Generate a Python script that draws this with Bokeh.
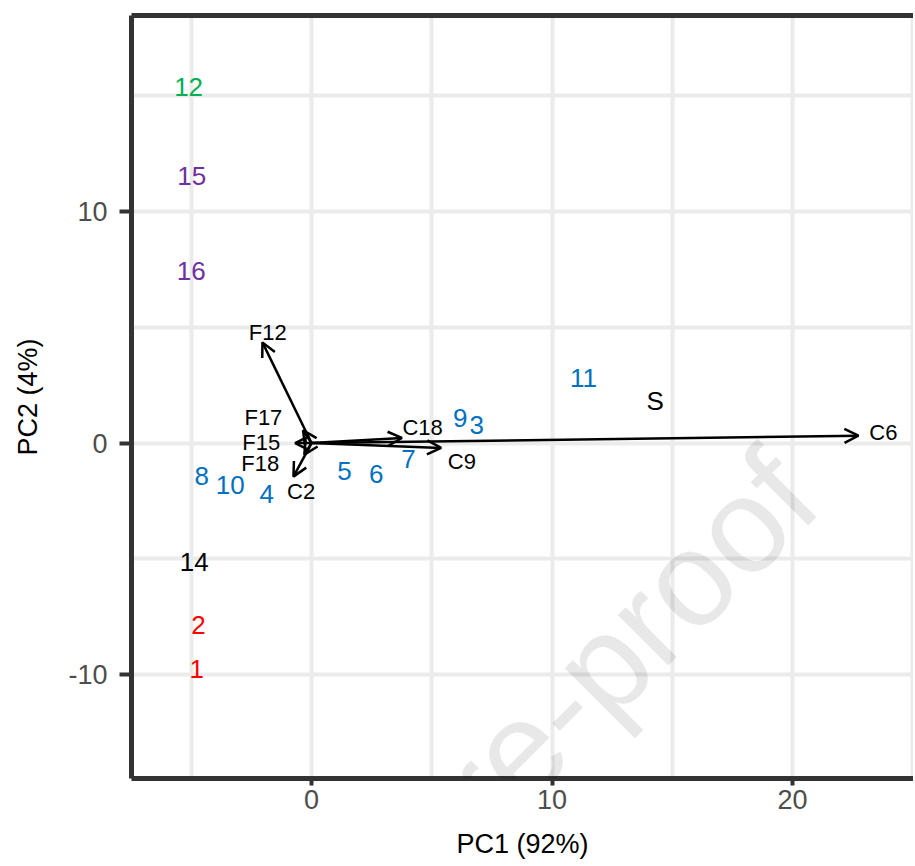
from bokeh.plotting import figure
from bokeh.models import (Range1d, LinearAxis, FixedTicker, Arrow, OpenHead,
                          ColumnDataSource, Label)
from bokeh.core.properties import value
from bokeh.embed import file_html
from bokeh.resources import INLINE

# ---- sample scores (PC1, PC2) ----
samples = ["12", "15", "16", "14", "2", "1", "8", "10", "4", "5", "6", "7", "9", "3", "11", "S"]
sample_pc1 = [-5.11, -4.98, -5.00, -4.88, -4.70, -4.77, -4.56, -3.38, -1.86, 1.37, 2.69, 4.03, 6.18, 6.87, 11.31, 14.29]
sample_pc2 = [15.39, 11.53, 7.42, -5.15, -7.88, -9.78, -1.43, -1.79, -2.22, -1.22, -1.32, -0.68, 1.09, 0.80, 2.82, 1.81]
sample_group = ["green", "purple", "purple", "black", "red", "red", "blue", "blue", "blue",
                "blue", "blue", "blue", "blue", "blue", "blue", "black"]
group_colors = {"green": "#00B050", "purple": "#7030A0", "black": "#000000",
                "red": "#FF0000", "blue": "#0070C0"}

# ---- variable loadings (arrow tips) and their label positions ----
variables = ["C6", "C9", "C18", "F12", "C2", "F17", "F15", "F18"]
load_pc1 = [22.74, 5.39, 3.76, -2.04, -0.75, -0.35, -0.68, -0.30]
load_pc2 = [0.32, -0.21, 0.22, 4.35, -1.45, 0.55, 0.00, -0.50]
label_pc1 = [23.78, 6.25, 4.62, -1.82, -0.43, -2.00, -2.09, -2.13]
label_pc2 = [0.45, -0.79, 0.66, 4.76, -2.08, 1.09, 0.01, -0.89]

x_ticks = [0, 10, 20]
y_ticks = [-10, 0, 10]
y_tick_text = {-10: "-10", 0: "0", 10: "10"}
x_grid = [-5, 0, 5, 10, 15, 20, 25]
y_grid = [-10, -5, 0, 5, 10, 15]

FONT = "Liberation Sans"
BORDER = "#333333"

p = figure(frame_width=782, frame_height=763,
           x_range=Range1d(-7.484, 25.03), y_range=Range1d(-14.49, 18.47),
           output_backend="svg", toolbar_location=None,
           min_border_left=131, min_border_right=0, min_border_top=15, min_border_bottom=0,
           x_axis_label="PC1 (92%)", y_axis_label="PC2 (4%)")
p.outline_line_color = None
p.background_fill_color = "white"
p.border_fill_color = "white"

# grid
p.xgrid.ticker = FixedTicker(ticks=x_grid)
p.ygrid.ticker = FixedTicker(ticks=y_grid)
for g in (p.xgrid, p.ygrid):
    g.grid_line_color = "#EBEBEB"
    g.grid_line_width = 4

# axes
p.xaxis.ticker = FixedTicker(ticks=x_ticks)
p.yaxis.ticker = FixedTicker(ticks=y_ticks)
p.yaxis.major_label_overrides = y_tick_text
for ax in (p.xaxis[0], p.yaxis[0]):
    ax.axis_line_color = BORDER
    ax.axis_line_width = 5
    ax.major_tick_line_color = BORDER
    ax.major_tick_line_width = 4
    ax.major_tick_in = 0
    ax.minor_tick_line_color = None
    ax.major_label_text_font = FONT
    ax.major_label_text_font_size = "27px"
    ax.major_label_text_color = "#4D4D4D"
    ax.axis_label_text_font = FONT
    ax.axis_label_text_font_size = "27px"
    ax.axis_label_text_font_style = "normal"
    ax.axis_label_text_color = "black"
p.xaxis.major_tick_out = 7
p.xaxis.major_label_standoff = 4
p.xaxis.axis_label_standoff = 17
p.yaxis.major_tick_out = 12
p.yaxis.major_label_standoff = 12
p.yaxis.axis_label_standoff = 22

top_axis = LinearAxis(ticker=FixedTicker(ticks=[]), axis_line_color=BORDER, axis_line_width=5,
                      major_tick_line_color=None, minor_tick_line_color=None,
                      major_label_text_font_size="0px", major_tick_out=0, major_label_standoff=0)
p.add_layout(top_axis, "above")

# watermark
wm = Label(x=20.04, y=-1.36, text="Journal Pre-proof", angle=45, angle_units="deg",
           text_font=FONT, text_font_size="135px", text_color="black", text_alpha=0.09,
           text_align="right", text_baseline="alphabetic")
p.add_layout(wm)

# arrows
asrc = ColumnDataSource(dict(x=load_pc1, y=load_pc2))
p.add_layout(Arrow(end=OpenHead(size=14, line_width=2.5, line_color="black"),
                   x_start=0, y_start=0, x_end="x", y_end="y", source=asrc,
                   line_width=2.5, line_color="black"))

# variable labels
vsrc = ColumnDataSource(dict(x=label_pc1, y=label_pc2, t=variables))
p.text(x="x", y="y", text="t", source=vsrc, text_font=value(FONT), text_font_size="22px",
       text_color="black", text_align="center", text_baseline="middle")

# sample labels
ssrc = ColumnDataSource(dict(x=sample_pc1, y=sample_pc2, t=samples,
                             c=[group_colors[g] for g in sample_group]))
p.text(x="x", y="y", text="t", source=ssrc, text_font=value(FONT), text_font_size="26px",
       text_color="c", text_align="center", text_baseline="middle")

open("out.html", "w").write(file_html(p, INLINE))
